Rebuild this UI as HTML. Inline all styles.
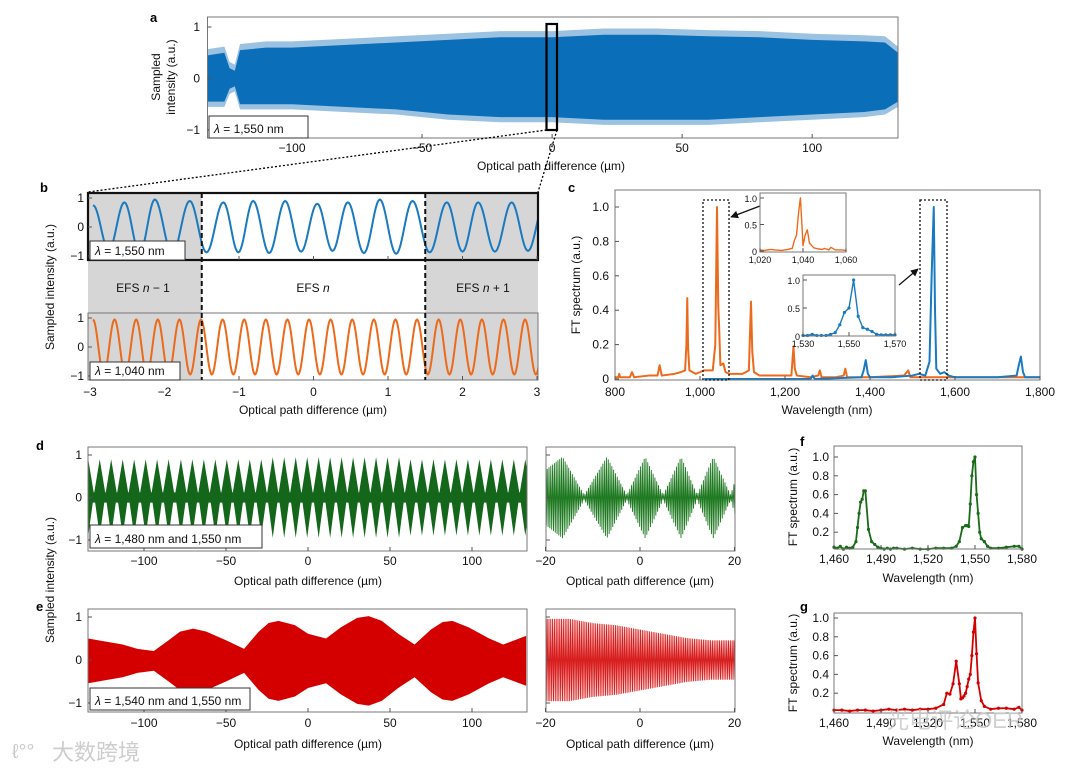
<!DOCTYPE html>
<html><head><meta charset="utf-8">
<style>
html,body{margin:0;padding:0;background:#fff;}
svg{display:block;font-family:"Liberation Sans","Noto Sans CJK SC",sans-serif;}
</style></head>
<body>
<svg id="fig" width="1080" height="772" viewBox="0 0 1080 772" xmlns="http://www.w3.org/2000/svg">
<g id="static">
  <text x="150" y="22" font-size="13" font-weight="bold">a</text>
  <text x="40" y="192" font-size="13" font-weight="bold">b</text>
  <text x="568" y="192" font-size="13" font-weight="bold">c</text>
  <text x="36" y="450" font-size="13" font-weight="bold">d</text>
  <text x="36" y="611" font-size="13" font-weight="bold">e</text>
  <text x="800" y="446" font-size="13" font-weight="bold">f</text>
  <text x="800" y="611" font-size="13" font-weight="bold">g</text>
</g>
<g id="plots"></g>
<g id="wm">
  <text x="955" y="728" font-size="22" fill="#c8c8c8" opacity="0.85" text-anchor="middle">光电评论OER</text>
  <text x="52" y="760" font-size="22" fill="#c8c8c8" opacity="0.9">大数跨境</text>
  <text x="12" y="758" font-size="20" fill="#c8c8c8">ℓ°°</text>
</g>
</svg>
<script>
// ---------- DATA ----------
const aX   = [-132.5,-126,-124,-122,-120,-110,-100,-80,-60,-40,-20,0,20,40,60,80,100,120,128,133];
const aTop = [0.45,0.5,0.2,0.15,0.55,0.6,0.6,0.65,0.7,0.75,0.8,0.8,0.85,0.85,0.82,0.8,0.75,0.72,0.7,0.5];
const aBot = [-0.45,-0.45,-0.2,-0.15,-0.5,-0.5,-0.5,-0.55,-0.6,-0.7,-0.75,-0.75,-0.8,-0.8,-0.8,-0.75,-0.7,-0.65,-0.6,-0.45];
const aXTicks = [-100,-50,0,50,100];
const aYTicks = [-1,0,1];
const bBluePeaks = [-2.96,-2.54,-2.13,-1.66,-1.21,-0.81,-0.38,0.05,0.46,0.89,1.33,1.79,2.21,2.66,3.1];
const bBlueH     = [0.75,0.85,0.95,0.9,0.85,0.9,0.9,0.8,0.85,0.95,0.9,0.85,0.85,0.85,0.8];
const bOrangePeaks = [-2.96,-2.67,-2.38,-2.09,-1.8,-1.51,-1.22,-0.93,-0.64,-0.35,-0.06,0.23,0.52,0.81,1.1,1.39,1.68,1.97,2.26,2.55,2.84,3.13];
const bOrangeH = [0.95,0.95,0.95,0.95,0.95,0.95,0.95,0.95,0.95,0.95,0.95,0.95,0.95,0.95,0.95,0.95,0.95,0.95,0.95,0.95,0.95,0.95];
const bXTicks = [-3,-2,-1,0,1,2,3];
const bYTicks = [-1,0,1];
const cOrangeWl = [800,808,810,812,835,840,845,880,900,905,910,940,955,965,968,970,972,975,990,1000,1010,1030,1036,1040,1043,1045,1048,1055,1060,1070,1100,1115,1120,1123,1127,1140,1180,1215,1220,1223,1228,1260,1278,1282,1286,1320,1338,1342,1346,1400,1480,1490,1495,1520,1560,1600,1700,1800];
const cOrangeV  = [0.01,0.01,0.03,0.01,0.01,0.04,0.01,0.02,0.02,0.08,0.02,0.03,0.04,0.05,0.2,0.47,0.18,0.05,0.03,0.04,0.05,0.05,0.2,1.0,0.42,0.3,0.08,0.09,0.04,0.03,0.03,0.05,0.45,0.16,0.04,0.02,0.02,0.02,0.19,0.06,0.02,0.01,0.02,0.05,0.01,0.01,0.02,0.06,0.01,0.01,0.02,0.05,0.01,0.01,0.01,0.01,0.01,0.01];
const cBlueWl = [1010,1260,1265,1270,1380,1385,1390,1395,1400,1450,1500,1515,1530,1540,1545,1550,1553,1556,1565,1575,1585,1600,1700,1745,1750,1755,1760,1765,1800];
const cBlueV  = [0.0,0.0,0.02,0.0,0.01,0.05,0.11,0.03,0.01,0.01,0.02,0.03,0.02,0.1,0.6,1.0,0.4,0.06,0.03,0.04,0.02,0.01,0.01,0.02,0.08,0.13,0.04,0.01,0.01];
const cXTicks = [800,1000,1200,1400,1600,1800];
const cYTicks = [0,0.2,0.4,0.6,0.8,1.0];
const c1Wl = [1020,1022,1025,1027,1030,1033,1035,1036,1037,1038,1038.8,1039.5,1040,1041,1042,1043,1045,1047,1049,1050,1052,1053,1055,1058,1060];
const c1V  = [0.02,0.01,0.03,0.02,0.01,0.03,0.05,0.2,0.3,0.75,1.0,0.5,0.1,0.3,0.4,0.15,0.06,0.04,0.03,0.05,0.02,0.07,0.02,0.02,0.01];
const c2Wl = [1530,1532,1534,1536,1538,1540,1542,1544,1546,1548,1550,1552,1554,1556,1558,1560,1562,1564,1566,1568,1570];
const c2V  = [0.01,0.01,0.03,0.01,0.01,0.01,0.03,0.06,0.2,0.42,0.5,1.0,0.35,0.15,0.12,0.08,0.03,0.02,0.02,0.02,0.02];
const dLobeX = [-134,-127,-120,-113,-106,-99,-92,-85,-77.5,-70.5,-63.5,-56.5,-49.5,-42.5,-35.5,-28.5,-21.5,-14.5,-7.5,-0.5,6.5,13.5,20.5,27.5,34.5,41.5,48.5,55.5,62.5,69.5,76.5,83.5,90.5,97.5,104.5,111.5,118.5,125.5,132.5];
const dLobeA = [0.9,0.9,0.9,0.9,0.9,0.9,0.9,0.9,0.9,0.9,0.9,0.9,0.9,0.9,0.9,0.9,0.95,0.95,0.95,0.95,0.95,0.95,0.95,0.95,0.95,0.95,0.95,0.95,0.9,0.9,0.9,0.9,0.9,0.9,0.9,0.9,0.9,0.9,0.9];
const dRX   = [-20.4,-16.4,-11.8,-7.0,-2.8,1.1,4.9,8.7,12.1,15.5,19.2,20.4];
const dRTop = [0.6,0.95,0.05,0.95,0.05,0.95,0.05,0.95,0.05,0.95,0.05,0.5];
const dXTicks = [-100,-50,0,50,100];
const dRXTicks = [-20,0,20];
const eX   = [-134,-125,-113,-104,-94,-85,-78,-70,-62,-50,-39,-30,-24,-18,-8,0,11,20,30,37,45,55,65,75,82,88,98,110,119,126,133];
const eTop = [0.44,0.38,0.3,0.2,0.15,0.4,0.6,0.67,0.6,0.4,0.2,0.6,0.8,0.85,0.75,0.55,0.44,0.7,0.92,0.96,0.85,0.55,0.3,0.65,0.82,0.85,0.7,0.45,0.3,0.4,0.5];
const eRX  = [-20.4,-15,-10,-5,0,5,10,15,20.4];
const eRTop= [0.95,0.95,0.85,0.8,0.7,0.6,0.5,0.45,0.45];
const fWl = [1460,1462,1464,1466,1468,1470,1472,1474,1475,1476,1477,1478,1479,1480,1482,1484,1486,1488,1490,1492,1494,1496,1498,1500,1505,1510,1515,1520,1525,1530,1535,1538,1540,1542,1544,1545,1546,1547,1548,1549,1550,1551,1552,1553,1554,1556,1558,1560,1565,1570,1575,1578,1580];
const fV  = [0.04,0.03,0.05,0.02,0.04,0.03,0.04,0.1,0.25,0.4,0.52,0.55,0.64,0.64,0.23,0.1,0.07,0.04,0.03,0.02,0.03,0.02,0.03,0.03,0.02,0.03,0.02,0.02,0.03,0.03,0.03,0.05,0.1,0.25,0.27,0.27,0.26,0.5,0.8,0.95,1.0,0.6,0.4,0.2,0.13,0.1,0.05,0.03,0.03,0.04,0.05,0.05,0.02];
const gWl = [1460,1465,1470,1475,1480,1485,1490,1495,1500,1505,1510,1515,1520,1525,1530,1532,1534,1536,1538,1540,1541,1542,1543,1544,1545,1546,1547,1548,1549,1550,1551,1552,1554,1556,1560,1565,1570,1575,1578,1580];
const gV  = [0.02,0.02,0.01,0.02,0.02,0.01,0.02,0.03,0.02,0.03,0.02,0.03,0.03,0.04,0.08,0.2,0.19,0.3,0.54,0.3,0.14,0.15,0.17,0.2,0.27,0.35,0.4,0.6,0.85,1.0,0.62,0.31,0.12,0.06,0.03,0.04,0.04,0.03,0.05,0.02];
const fXTicks = [1460,1490,1520,1550,1580];
const fYTicks = [0.2,0.4,0.6,0.8,1.0];

// ---------- HELPERS ----------
const NS="http://www.w3.org/2000/svg";
const root=document.getElementById('plots');
function el(tag,attrs,parent){const e=document.createElementNS(NS,tag);for(const k in attrs)e.setAttribute(k,attrs[k]);(parent||root).appendChild(e);return e;}
function lin(d0,d1,r0,r1){return v=>r0+(v-d0)*(r1-r0)/(d1-d0);}
function fmt(v){return (v<0?'\u2212':'')+Math.abs(v).toLocaleString('en-US');}
function txt(x,y,s,size,anchor,name,extra){const t=el('text',Object.assign({x:x,y:y,'font-size':size,'text-anchor':anchor||'middle',fill:'#111'},extra||{}));t.textContent=s;return t;}
function box(x0,y0,x1,y1,name,sw,col){const r=el('rect',{x:x0,y:y0,width:x1-x0,height:y1-y0,fill:'none',stroke:col||'#777','stroke-width':sw||1});return r;}
function xticks(ticks,sx,y0,y1,ly,name,fs,f){ticks.forEach(t=>{const l=el('line',{x1:sx(t),x2:sx(t),y1:y1,y2:y1-4,stroke:'#555'});txt(sx(t),ly,(f||fmt)(t),fs||12,'middle',name+'-label');});}
function yticks(ticks,sy,x0,lx,name,fs,f){ticks.forEach(t=>{const l=el('line',{x1:x0,x2:x0+4,y1:sy(t),y2:sy(t),stroke:'#555'});if(lx!==null)txt(lx,sy(t)+4,(f||fmt)(t),fs||12,'end',name+'-label');});}
function poly(xs,ys,sx,sy,col,w,name,fill,parent){const p=xs.map((x,i)=>sx(x).toFixed(2)+','+sy(ys[i]).toFixed(2)).join(' ');const e=el('polyline',{points:p,fill:fill||'none',stroke:col,'stroke-width':w||1.5,'stroke-linejoin':'round'},parent);return e;}
function band(xs,top,bot,sx,sy,col,name,op){let p=xs.map((x,i)=>sx(x)+','+sy(top[i])).join(' ')+' '+xs.slice().reverse().map((x,i)=>sx(x)+','+sy(bot[xs.length-1-i])).join(' ');const e=el('polygon',{points:p,fill:col,opacity:op||1});return e;}
function legend(x0,y0,x1,y1,s,name){const r=el('rect',{x:x0,y:y0,width:x1-x0,height:y1-y0,fill:'#fff',stroke:'#333','stroke-width':1});const t=el('text',{x:x0+5,y:y1-5,'font-size':12,fill:'#111'});t.innerHTML='<tspan font-style="italic">λ</tspan> = '+s;}
function interpEnv(xs,ys,x){for(let i=0;i<xs.length-1;i++){if(x>=xs[i]&&x<=xs[i+1]){const t=(x-xs[i])/(xs[i+1]-xs[i]);return ys[i]+(ys[i+1]-ys[i])*t;}}return ys[ys.length-1];}
function markers(xs,ys,sx,sy,col,name){xs.forEach((x,i)=>{const c=el('circle',{cx:sx(x),cy:sy(ys[i]),r:1.6,fill:col});});}

// ---------- PANEL A ----------
(function(){
 const sx=lin(-132.5,133,207.5,898), sy=lin(-1,1,130,27);
 const clip=el('clipPath',{id:'clipA'});el('rect',{x:207.5,y:17,width:690.5,height:121},clip);
 const g=el('g',{'clip-path':'url(#clipA)'});
 const outT=aTop.map(v=>Math.min(1,v+0.12)), outB=aBot.map(v=>v-0.1);
 g.appendChild(band(aX,outT,outB,sx,sy,'#4a90c8','panel-a-spikes',0.55));
 g.appendChild(band(aX,aTop,aBot,sx,sy,'#0a6fb8','panel-a-envelope'));
 box(207.5,17,898,138,'panel-a-axes-box');
 xticks(aXTicks,sx,17,138,152,'panel-a-x');
 yticks(aYTicks,sy,207.5,200,'panel-a-y');
 legend(209,116,308,138,'1,550 nm','panel-a-legend');
 const hl=el('rect',{x:546.5,y:24,width:10.5,height:106,fill:'none',stroke:'#000','stroke-width':2.2});
 txt(551,170,'Optical path difference (µm)',12,'middle','panel-a-x-title');
 txt(0,0,'Sampled',12,'middle','panel-a-y-title-1',{transform:'translate(160,77) rotate(-90)'});
 txt(0,0,'intensity (a.u.)',12,'middle','panel-a-y-title-2',{transform:'translate(175,77) rotate(-90)'});
 const d1=el('line',{x1:546.5,y1:130,x2:88,y2:192,stroke:'#000','stroke-dasharray':'2,2','stroke-width':1.3});
 const d2=el('line',{x1:557,y1:130,x2:538,y2:192,stroke:'#000','stroke-dasharray':'2,2','stroke-width':1.3});
})();

// ---------- PANEL B ----------
function sineThrough(peaks,h,lo,hi){const pts=[];for(let i=0;i<peaks.length-1;i++){const a=peaks[i],b=peaks[i+1];for(let k=0;k<24;k++){const t=k/24;const ph=t*2*Math.PI;const amp=h[i]+(h[i+1]-h[i])*t;const x=a+(b-a)*t;if(x>=lo&&x<=hi)pts.push([x,amp*Math.cos(ph)]);}}return pts;}
(function(){
 const sx=lin(-3,3,90,537);
 const syT=lin(-1,1,256,198), syB=lin(-1,1,376,318);
 const L=88,R=538,xl=sx(-1.5),xr=sx(1.5);
 [[L,xl],[xr,R]].forEach((r,i)=>{const e=el('rect',{x:r[0],y:193,width:r[1]-r[0],height:187,fill:'#d6d6d6'});});
 const clip=el('clipPath',{id:'clipB'});el('rect',{x:L,y:193,width:R-L,height:187},clip);
 const g=el('g',{'clip-path':'url(#clipB)'});
 const pb=sineThrough(bBluePeaks,bBlueH,-3.05,3.05);
 poly(pb.map(p=>p[0]),pb.map(p=>p[1]),sx,syT,'#1a7ac0',2,'panel-b-blue-signal',null,g);
 const po=sineThrough(bOrangePeaks,bOrangeH,-3.05,3.05);
 poly(po.map(p=>p[0]),po.map(p=>p[1]),sx,syB,'#ec6a1c',2,'panel-b-orange-signal',null,g);
 box(L,193,R,260,'panel-b-top-box',2.2,'#111');
 box(L,313,R,380,'panel-b-bottom-box',1,'#777');
 [xl,xr].forEach((x,i)=>{const e=el('line',{x1:x,x2:x,y1:193,y2:380,stroke:'#111','stroke-width':2,'stroke-dasharray':'5,3'});});
 xticks(bXTicks,sx,313,380,396,'panel-b-x');
 bXTicks.forEach(t=>{const l=el('line',{x1:sx(t),x2:sx(t),y1:260,y2:256,stroke:'#555'});});
 yticks(bYTicks,syT,L,84,'panel-b-top-y');
 yticks(bYTicks,syB,L,84,'panel-b-bottom-y');
 legend(90,241,185,260,'1,550 nm','panel-b-top-legend');
 legend(90,362,180,380,'1,040 nm','panel-b-bottom-legend');
 const t1=el('text',{x:143,y:292,'font-size':12,'text-anchor':'middle',fill:'#111'});t1.innerHTML='EFS <tspan font-style="italic">n</tspan> − 1';
 const t2=el('text',{x:313,y:292,'font-size':12,'text-anchor':'middle',fill:'#111'});t2.innerHTML='EFS <tspan font-style="italic">n</tspan>';
 const t3=el('text',{x:483,y:292,'font-size':12,'text-anchor':'middle',fill:'#111'});t3.innerHTML='EFS <tspan font-style="italic">n</tspan> + 1';
 txt(313,414,'Optical path difference (µm)',12,'middle','panel-b-x-title');
 txt(0,0,'Sampled intensity (a.u.)',12,'middle','panel-b-y-title',{transform:'translate(54,287) rotate(-90)'});
})();

// ---------- PANEL C ----------
(function(){
 const sx=lin(800,1800,615,1040), sy=lin(0,1,379,207);
 const clip=el('clipPath',{id:'clipC'});el('rect',{x:615,y:190,width:425,height:190},clip);
 const g=el('g',{'clip-path':'url(#clipC)'});
 poly(cOrangeWl,cOrangeV,sx,sy,'#ec6a1c',2,'panel-c-orange-spectrum',null,g);
 poly(cBlueWl,cBlueV,sx,sy,'#1a7ac0',2,'panel-c-blue-spectrum',null,g);
 box(615,190,1040,380,'panel-c-axes-box');
 xticks(cXTicks,sx,190,380,396,'panel-c-x');
 yticks(cYTicks,sy,615,609,'panel-c-y',12,v=>v===0?'0':v.toFixed(1));
 [[703,729],[920,947]].forEach((r,i)=>{const e=el('rect',{x:r[0],y:200,width:r[1]-r[0],height:180,fill:'none',stroke:'#111','stroke-width':1.3,'stroke-dasharray':'2,2'});});
 el('defs',{}).innerHTML='<marker id="arr" viewBox="0 0 10 10" refX="9" refY="5" markerWidth="6" markerHeight="6" orient="auto"><path d="M0,0 L10,5 L0,10 z" fill="#111"/></marker>';
 const a1=el('line',{x1:760,y1:206,x2:731,y2:217,stroke:'#111','stroke-width':1.3,'marker-end':'url(#arr)'});
 const a2=el('line',{x1:899,y1:285,x2:918,y2:269,stroke:'#111','stroke-width':1.3,'marker-end':'url(#arr)'});
 const ix=lin(1020,1060,760,846), iy=lin(0,1,251,198);
 el('rect',{x:760,y:193,width:86,height:59,fill:'#fff'});
 poly(c1Wl,c1V,ix,iy,'#ec6a1c',1.4,'inset-1-spectrum');
 box(760,193,846,252,'inset-1-box');
 xticks([1020,1040,1060],ix,193,252,263,'inset-1-x',9);
 yticks([0,0.5,1.0],iy,760,757,'inset-1-y',9,v=>v===0?'0':v.toFixed(1));
 const jx=lin(1530,1570,803,895), jy=lin(0,1,336,280);
 el('rect',{x:803,y:275,width:92,height:61,fill:'#fff'});
 poly(c2Wl,c2V,jx,jy,'#1a7ac0',1.4,'inset-2-spectrum');
 markers(c2Wl,c2V,jx,jy,'#1a7ac0','inset-2-marker');
 box(803,275,895,336,'inset-2-box');
 xticks([1530,1550,1570],jx,275,336,347,'inset-2-x',9);
 yticks([0,0.5,1.0],jy,803,800,'inset-2-y',9,v=>v===0?'0':v.toFixed(1));
 txt(827,414,'Wavelength (nm)',12,'middle','panel-c-x-title');
 txt(0,0,'FT spectrum (a.u.)',12,'middle','panel-c-y-title',{transform:'translate(580,285) rotate(-90)'});
})();

// ---------- PANEL D / E ----------
(function(){
 const sx=lin(0,50,308,390);
 const syD=lin(-1,1,540,455);
 const clip=el('clipPath',{id:'clipD'});el('rect',{x:88,y:447,width:439,height:104},clip);
 const g=el('g',{'clip-path':'url(#clipD)'});
 dLobeX.forEach((c,i)=>{const hw=3.5;const p=[[c-hw,0.08],[c,dLobeA[i]],[c+hw,0.08],[c,-dLobeA[i]]].map(q=>sx(q[0])+','+syD(q[1])).join(' ');const e=el('polygon',{points:p,fill:'#14661a'},g);});
 const core=el('rect',{x:88,y:syD(0.12),width:439,height:syD(-0.12)-syD(0.12),fill:'#14661a'},g);
 box(88,447,527,551,'panel-d-left-box');
 xticks(dXTicks,sx,447,551,565,'panel-d-x');
 yticks([-1,0,1],syD,88,82,'panel-d-y');
 legend(90,525,262,548,'1,480 nm and 1,550 nm','panel-d-legend');
 txt(308,585,'Optical path difference (µm)',12,'middle','panel-d-x-title');
 const rx=lin(0,20,640,734.5);
 const clipDR=el('clipPath',{id:'clipDR'});el('rect',{x:546,y:447,width:189,height:104},clipDR);
 const gdr=el('g',{'clip-path':'url(#clipDR)'});
 const pts=[];for(let x=-20.4;x<=20.4;x+=0.19){const a=interpEnv(dRX,dRTop,x);pts.push([x,(Math.round(x/0.19)%2?1:-1)*a]);}
 poly(pts.map(p=>p[0]),pts.map(p=>p[1]),rx,syD,'#1f7a22',0.9,'panel-d-right-signal',null,gdr);
 box(546,447,735,551,'panel-d-right-box');
 xticks(dRXTicks,rx,447,551,565,'panel-d-right-x');
 yticks([-1,0,1],syD,546,null,'panel-d-right-y');
 txt(640,585,'Optical path difference (µm)',12,'middle','panel-d-right-x-title');
 const syE=lin(-1,1,703,617);
 const clipE=el('clipPath',{id:'clipE'});el('rect',{x:88,y:609,width:439,height:103},clipE);
 const ge=el('g',{'clip-path':'url(#clipE)'});
 ge.appendChild(band(eX,eTop.map(v=>v+0.06),eTop.map(v=>-v-0.1),sx,syE,'#d40000','panel-e-envelope'));
 box(88,609,527,712,'panel-e-left-box');
 xticks(dXTicks,sx,609,712,727,'panel-e-x');
 yticks([-1,0,1],syE,88,82,'panel-e-y');
 legend(90,688,250,710,'1,540 nm and 1,550 nm','panel-e-legend');
 txt(308,748,'Optical path difference (µm)',12,'middle','panel-e-x-title');
 const clipER=el('clipPath',{id:'clipER'});el('rect',{x:546,y:609,width:189,height:103},clipER);
 const ger=el('g',{'clip-path':'url(#clipER)'});
 const pe=[];for(let x=-20.4;x<=20.4;x+=0.19){const a=interpEnv(eRX,eRTop,x);pe.push([x,(Math.round(x/0.19)%2?1:-1)*a]);}
 poly(pe.map(p=>p[0]),pe.map(p=>p[1]),rx,syE,'#d81e1e',0.9,'panel-e-right-signal',null,ger);
 box(546,609,735,712,'panel-e-right-box');
 xticks(dRXTicks,rx,609,712,727,'panel-e-right-x');
 yticks([-1,0,1],syE,546,null,'panel-e-right-y');
 txt(640,748,'Optical path difference (µm)',12,'middle','panel-e-right-x-title');
 txt(0,0,'Sampled intensity (a.u.)',12,'middle','panel-de-y-title',{transform:'translate(54,580) rotate(-90)'});
})();

// ---------- PANEL F / G ----------
(function(){
 const sx=lin(1460,1580,834,1022);
 const syF=lin(0,1,551,457);
 poly(fWl,fV,sx,syF,'#1a6b1a',1.8,'panel-f-spectrum');
 markers(fWl,fV,sx,syF,'#1a6b1a','panel-f-marker');
 box(834,446,1022,549,'panel-f-box');
 xticks(fXTicks,sx,446,549,563,'panel-f-x');
 yticks(fYTicks,syF,834,829,'panel-f-y',12,v=>v.toFixed(1));
 txt(928,582,'Wavelength (nm)',12,'middle','panel-f-x-title');
 txt(0,0,'FT spectrum (a.u.)',12,'middle','panel-f-y-title',{transform:'translate(797,497) rotate(-90)'});
 const syG=lin(0,1,712,618);
 poly(gWl,gV,sx,syG,'#d40000',1.8,'panel-g-spectrum');
 markers(gWl,gV,sx,syG,'#d40000','panel-g-marker');
 box(834,613,1022,713,'panel-g-box');
 xticks(fXTicks,sx,613,713,727,'panel-g-x');
 yticks(fYTicks,syG,834,829,'panel-g-y',12,v=>v.toFixed(1));
 txt(928,745,'Wavelength (nm)',12,'middle','panel-g-x-title');
 txt(0,0,'FT spectrum (a.u.)',12,'middle','panel-g-y-title',{transform:'translate(797,663) rotate(-90)'});
})();
document.getElementById('fig').appendChild(document.getElementById('wm'));
</script>
</body></html>
